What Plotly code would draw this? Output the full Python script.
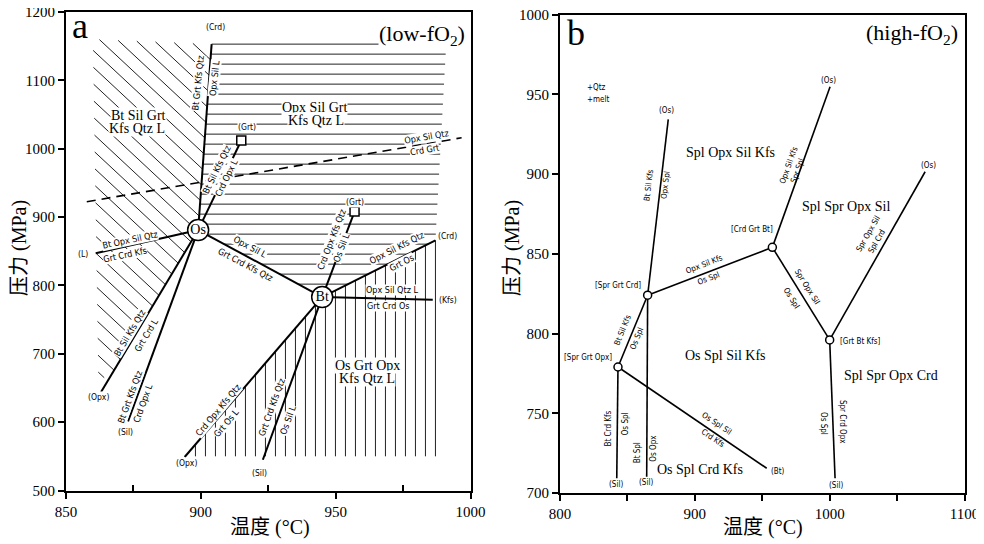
import math
import plotly.graph_objects as go

# window is 984x544; the page body adds an 8px margin, so the figure is drawn 8px in
WIN_W, WIN_H = 984, 544
OFF = 8
W, H = WIN_W - OFF, WIN_H - OFF

# ---------------- data: panel a (low-fO2) ----------------
A_T_RANGE = [850, 1000]
A_P_RANGE = [500, 1200]
a_inv_names = ["Os", "Bt"]
a_inv_T = [899, 945]
a_inv_P = [881, 783]
a_sq_T = [915, 957]
a_sq_P = [1012, 908]
# reaction lines: (T0, P0, T1, P1)
a_reactions = [
    (899, 881, 904, 1153),  # (Crd)
    (899, 881, 915, 1012),  # (Grt)
    (899, 881, 861, 847),   # (L)
    (899, 881, 863, 644),   # (Opx)
    (899, 881, 873, 601),   # (Sil)
    (899, 881, 945, 783),   # Os - Bt
    (945, 783, 957, 908),   # (Grt)
    (945, 783, 987, 866),   # (Crd)
    (945, 783, 986, 779),   # (Kfs)
    (945, 783, 894, 549),   # (Opx)
    (945, 783, 923, 545),   # (Sil)
]
a_dashed_T = [857.7, 996.7]
a_dashed_P = [922.5, 1016.0]
# line labels: text, T, P, angle
a_line_labels = [
    ("Bt Grt Kfs Qtz", 899.1, 1095.7, -84), ("Opx Sil L", 905.2, 1103, -84),
    ("Bt Sil Kfs Qtz", 905.9, 968.8, -64), ("Crd Opx L", 909.6, 956.7, -64),
    ("Bt Opx Sil Qtz", 873.7, 866.4, -12), ("Grt Crd Kfs", 871.9, 844.5, -12),
    ("Bt Sil Kfs Qtz", 873.7, 730.0, -59), ("Grt Crd L", 879.9, 727.5, -59),
    ("Bt Grt Kfs Qtz", 873.7, 637.2, -70), ("Crd Opx L", 878.7, 627.6, -70),
    ("Opx Sil L", 918.2, 856.2, 28), ("Grt Crd Kfs Qtz", 916.7, 829.9, 28),
    ("Crd Opx Kfs Qtz", 948.5, 866.4, -69), ("Os Sil L", 952.2, 854.3, -69),
    ("Opx Sil Kfs Qtz", 972.6, 854.3, -27), ("Grt Os", 974.5, 832.4, -27),
    ("Opx Sil Qtz L", 970.8, 793.3, 0), ("Grt Crd Os", 969.5, 769.9, 0),
    ("Crd Opx Kfs Qtz", 906.5, 617.8, -50), ("Grt Os L", 909.6, 598.3, -50),
    ("Grt Crd Kfs Qtz", 926.3, 622.6, -70), ("Os Sil L", 932.4, 603.1, -70),
    ("Opx Sil Qtz", 983.7, 1017.6, -10), ("Crd Grt", 983.1, 998.1, -10),
]
a_end_labels = [
    ("(Crd)", 905.5, 1178), ("(Grt)", 917.1, 1031.7), ("(Grt)", 957.2, 922.5),
    ("(Crd)", 991.6, 872.3), ("(Kfs)", 991.6, 778.7), ("(L)", 856.3, 846),
    ("(Opx)", 861.9, 636.8), ("(Sil)", 871.9, 585.6), ("(Opx)", 894.5, 539.8),
    ("(Sil)", 921.9, 525.2),
]
a_fields = [
    ("Bt Sil Grt", 876.7, 1049.3), ("Kfs Qtz L", 876.3, 1030.3),
    ("Opx Sil Grt", 942.3, 1060.0), ("Kfs Qtz L", 942.7, 1042.0),
    ("Os Grt Opx", 961.8, 682.6), ("Kfs Qtz L", 961.5, 664.1),
]
# hatched fields (boundary vertices, T/P)
a_diag_field = [(860, 1160), (904, 1153), (899, 881), (866.2, 665), (862, 665)]
a_horiz_field = [(899, 881), (904, 1153), (991, 1153), (987, 866), (945, 783)]
a_vert_field = [(945, 783), (987, 866), (987, 550), (894.4, 550)]

# ---------------- data: panel b (high-fO2) ----------------
B_T_RANGE = [800, 1100]
B_P_RANGE = [700, 1000]
b_node_T = [843, 865, 957.5, 1000]
b_node_P = [779, 824, 854, 796]
b_reactions = [
    (843, 779, 842.1, 709.2),    # (Sil)
    (843, 779, 865, 824),
    (843, 779, 953.3, 715.5),    # (Bt)
    (865, 824, 864.3, 710.2),    # (Sil)
    (865, 824, 880.3, 934.3),    # (Os)
    (865, 824, 957.5, 854),
    (957.5, 854, 1000.3, 954.7), # (Os)
    (957.5, 854, 1000, 796),
    (1000, 796, 1070.8, 901.4),  # (Os)
    (1000, 796, 1004, 709.2),    # (Sil)
]
b_node_labels = [
    ("[Spr Grt Opx]", 821, 784.8), ("[Spr Grt Crd]", 843.2, 829.8),
    ("[Crd Grt Bt]", 942.2, 865.3), ("[Grt Bt Kfs]", 1022.6, 795.3),
]
b_end_labels = [
    ("(Sil)", 841.3, 705.6), ("(Sil)", 863.6, 706.5), ("(Bt)", 961.7, 713.4),
    ("(Os)", 879.2, 940.1), ("(Os)", 999, 958.9), ("(Os)", 1073.2, 905.6),
    ("(Sil)", 1004.7, 704.4),
]
b_line_labels = [
    ("Bt Crd Kfs", 835.8, 740.6, -90), ("Os Spl", 848.2, 743.7, -90),
    ("Bt Spl", 857.6, 725.3, -90), ("Os Opx", 869.2, 728.0, -90),
    ("Bt Sil Kfs", 847.0, 802.2, -68), ("Os Spl", 856.9, 797.0, -68),
    ("Bt Sil Kfs", 865.5, 893.1, -83), ("Opx Spl", 877.9, 893.1, -83),
    ("Opx Sil Kfs", 906.8, 843.0, -21), ("Os Spl", 910.0, 834.6, -21),
    ("Opx Sil Kfs", 969.4, 905.6, -70), ("Spr Spl", 976.0, 902.5, -70),
    ("Spr Opx Sil", 983.0, 829.3, 58), ("Os Spl", 971.9, 822.1, 58),
    ("Spr Opx Sil", 1028.7, 862.8, -60), ("Spl Crd", 1034.9, 857.6, -60),
    ("Os Spl", 995.3, 743.7, 90), ("Spr Crd Opx", 1009.0, 744.7, 90),
    ("Os Spl Sil", 916.2, 743.7, 34), ("Crd Kfs", 913.7, 734.3, 34),
]
b_fields = [
    ("Spl Opx Sil Kfs", 926.1, 913.4), ("Spl Spr Opx Sil", 1012.2, 879.9),
    ("Os Spl Sil Kfs", 922.8, 785.9), ("Spl Spr Opx Crd", 1045.5, 773.5),
    ("Os Spl Crd Kfs", 903.6, 714.9),
]


# ---------------- layout geometry (window pixels -> paper) ----------------
def fx(px):
    return (px - OFF) / W


def fy(py):
    return 1 - (py - OFF) / H


AX_DOM = [fx(66), fx(470.5)]
AY_DOM = [fy(490.5), fy(12)]
BX_DOM = [fx(560), fx(964.5)]
BY_DOM = [fy(493), fy(14.5)]

SERIF = "Liberation Serif, Times New Roman, serif"
CJK = "Liberation Serif, Noto Sans CJK SC, serif"
SMALL = "DejaVu Sans Condensed, Liberation Sans Narrow, Arial Narrow, sans-serif"

a_sx = W * (AX_DOM[1] - AX_DOM[0]) / (A_T_RANGE[1] - A_T_RANGE[0])
a_sy = H * (AY_DOM[1] - AY_DOM[0]) / (A_P_RANGE[1] - A_P_RANGE[0])


def to_px(T, P):
    return ((T - A_T_RANGE[0]) * a_sx, (P - A_P_RANGE[0]) * a_sy)


def to_data(X, Y):
    return (X / a_sx + A_T_RANGE[0], Y / a_sy + A_P_RANGE[0])


def hatch(field, angle_deg, spacing, anchor=None):
    """Parallel lines clipped to a convex field; offsets step down from anchor."""
    poly = [to_px(t, p) for t, p in field]
    a = math.radians(angle_deg)
    d = (math.cos(a), math.sin(a))
    n = (-d[1], d[0])
    proj = [v[0] * n[0] + v[1] * n[1] for v in poly]
    lo, hi = min(proj), max(proj)
    c = anchor if anchor is not None else hi
    xs, ys = [], []
    while c > lo - 1e-6:
        if c <= hi + 1e-6:
            p0 = (n[0] * c, n[1] * c)
            ts = []
            for i in range(len(poly)):
                A = poly[i]
                B = poly[(i + 1) % len(poly)]
                e = (B[0] - A[0], B[1] - A[1])
                den = d[0] * e[1] - d[1] * e[0]
                if abs(den) < 1e-12:
                    continue
                w = (A[0] - p0[0], A[1] - p0[1])
                t = (w[0] * e[1] - w[1] * e[0]) / den
                s = (w[0] * d[1] - w[1] * d[0]) / den
                if -1e-9 <= s <= 1 + 1e-9:
                    ts.append(t)
            if len(ts) >= 2 and max(ts) - min(ts) > 0.5:
                for t in (min(ts), max(ts)):
                    T, P = to_data(p0[0] + d[0] * t, p0[1] + d[1] * t)
                    xs.append(T)
                    ys.append(P)
                xs.append(None)
                ys.append(None)
        c -= spacing
    return xs, ys


fig = go.Figure()

# hatching panel a
HATCH = dict(color="#222", width=1)
hx, hy = hatch(a_diag_field, -43, 12.2)
fig.add_trace(go.Scatter(x=hx, y=hy, mode="lines", line=HATCH, xaxis="x", yaxis="y", hoverinfo="skip"))
top_y = to_px(0, a_horiz_field[1][1])[1]
hx, hy = hatch(a_horiz_field, 0, 10.0, anchor=top_y)       # normal (0,1): offset = Y
fig.add_trace(go.Scatter(x=hx, y=hy, mode="lines", line=HATCH, xaxis="x", yaxis="y", hoverinfo="skip"))
right_x = to_px(a_vert_field[1][0], 0)[0]
hx, hy = hatch(a_vert_field, -90, 10.0, anchor=right_x)   # normal (1,0): offset = X
fig.add_trace(go.Scatter(x=hx, y=hy, mode="lines", line=HATCH, xaxis="x", yaxis="y", hoverinfo="skip"))

# dashed line
fig.add_trace(go.Scatter(x=a_dashed_T, y=a_dashed_P, mode="lines",
                         line=dict(color="black", width=1.6, dash="9px,6px"),
                         xaxis="x", yaxis="y", hoverinfo="skip"))

# reaction lines panel a
rx, ry = [], []
for t0, p0, t1, p1 in a_reactions:
    rx += [t0, t1, None]
    ry += [p0, p1, None]
fig.add_trace(go.Scatter(x=rx, y=ry, mode="lines", line=dict(color="black", width=2),
                         xaxis="x", yaxis="y", hoverinfo="skip"))
fig.add_trace(go.Scatter(x=a_sq_T, y=a_sq_P, mode="markers",
                         marker=dict(symbol="square", size=9, color="white",
                                     line=dict(color="black", width=1.5)),
                         xaxis="x", yaxis="y", hoverinfo="skip"))
fig.add_trace(go.Scatter(x=a_inv_T, y=a_inv_P, mode="markers+text", text=a_inv_names,
                         textposition="middle center",
                         textfont=dict(family=SERIF, size=14, color="black"),
                         marker=dict(symbol="circle", size=21, color="white",
                                     line=dict(color="black", width=1.5)),
                         xaxis="x", yaxis="y", hoverinfo="skip"))

# reaction lines panel b
rx, ry = [], []
for t0, p0, t1, p1 in b_reactions:
    rx += [t0, t1, None]
    ry += [p0, p1, None]
fig.add_trace(go.Scatter(x=rx, y=ry, mode="lines", line=dict(color="black", width=1.6),
                         xaxis="x2", yaxis="y2", hoverinfo="skip"))
fig.add_trace(go.Scatter(x=b_node_T, y=b_node_P, mode="markers",
                         marker=dict(symbol="circle", size=8, color="white",
                                     line=dict(color="black", width=1.5)),
                         xaxis="x2", yaxis="y2", hoverinfo="skip"))

C = dict(xanchor="center", yanchor="middle", showarrow=False)
ann = []
for txt, t, p, ang in a_line_labels:
    ann.append(dict(x=t, y=p, xref="x", yref="y", text=txt, textangle=ang,
                    font=dict(family=SMALL, size=9, color="black"), bgcolor="white", borderpad=0, **C))
for txt, t, p in a_end_labels:
    ann.append(dict(x=t, y=p, xref="x", yref="y", text=txt,
                    font=dict(family=SMALL, size=8.5, color="black"), bgcolor="white", borderpad=0, **C))
for txt, t, p in a_fields:
    ann.append(dict(x=t, y=p, xref="x", yref="y", text=txt,
                    font=dict(family=SERIF, size=14, color="black"), bgcolor="white", borderpad=0, **C))
ann.append(dict(x=998.5, y=1167, xref="x", yref="y", text="(low-fO<sub>2</sub>)", xanchor="right",
                yanchor="middle", showarrow=False, font=dict(family=SERIF, size=22, color="black"),
                bgcolor="white", borderpad=0))
ann.append(dict(x=851.5, y=1179, xref="x", yref="y", text="a", xanchor="left", yanchor="middle",
                showarrow=False, font=dict(family=SERIF, size=36, color="black")))

for txt, t, p, ang in b_line_labels:
    ann.append(dict(x=t, y=p, xref="x2", yref="y2", text=txt, textangle=ang,
                    font=dict(family=SMALL, size=8, color="black"), **C))
for txt, t, p in b_end_labels + b_node_labels:
    ann.append(dict(x=t, y=p, xref="x2", yref="y2", text=txt,
                    font=dict(family=SMALL, size=8, color="black"), **C))
for txt, t, p in b_fields:
    ann.append(dict(x=t, y=p, xref="x2", yref="y2", text=txt,
                    font=dict(family=SERIF, size=14, color="black"), **C))
ann.append(dict(x=818.5, y=954.5, xref="x2", yref="y2", text="+Qtz", xanchor="left", yanchor="middle",
                showarrow=False, font=dict(family=SMALL, size=8, color="black")))
ann.append(dict(x=818.5, y=946.4, xref="x2", yref="y2", text="+melt", xanchor="left", yanchor="middle",
                showarrow=False, font=dict(family=SMALL, size=8, color="black")))
ann.append(dict(x=1097, y=988, xref="x2", yref="y2", text="(high-fO<sub>2</sub>)", xanchor="right",
                yanchor="middle", showarrow=False, font=dict(family=SERIF, size=22, color="black")))
ann.append(dict(x=803.5, y=988.4, xref="x2", yref="y2", text="b", xanchor="left", yanchor="middle",
                showarrow=False, font=dict(family=SERIF, size=36, color="black")))

# axis titles
for px in (270, 763):
    ann.append(dict(x=fx(px), y=fy(527), xref="paper", yref="paper", text="温度 (°C)",
                    font=dict(family=CJK, size=20, color="black"), **C))
for px in (20, 513):
    ann.append(dict(x=fx(px), y=fy(248), xref="paper", yref="paper", text="压力 (MPa)",
                    textangle=-90, font=dict(family=CJK, size=20, color="black"), **C))

axis_common = dict(showline=True, linewidth=2, linecolor="black", mirror=True, showgrid=False,
                   zeroline=False, ticks="outside", ticklen=6, tickwidth=1.5, tickcolor="black",
                   tickfont=dict(family=SERIF, size=15, color="black"), fixedrange=True,
                   automargin=False, ticklabeloverflow="allow")

fig.update_layout(
    template="none",
    width=W, height=H, margin=dict(l=0, r=0, t=0, b=0, pad=0, autoexpand=False),
    paper_bgcolor="white", plot_bgcolor="white", showlegend=False, hovermode=False,
    xaxis=dict(domain=AX_DOM, range=A_T_RANGE, tickvals=[850, 900, 950, 1000], anchor="y",
               minor=dict(tickvals=[875, 925, 975], ticks="inside", ticklen=6, tickwidth=1.5,
                          tickcolor="black"), **axis_common),
    yaxis=dict(domain=AY_DOM, range=A_P_RANGE, dtick=100, anchor="x", **axis_common),
    xaxis2=dict(domain=BX_DOM, range=B_T_RANGE, tickvals=[800, 900, 1000, 1100], anchor="y2",
                minor=dict(tickvals=[850, 950, 1050], ticks="outside", ticklen=6, tickwidth=1.5,
                           tickcolor="black"), **axis_common),
    yaxis2=dict(domain=BY_DOM, range=B_P_RANGE, dtick=50, anchor="x2", **axis_common),
    annotations=ann,
)

fig.write_html("out.html")
